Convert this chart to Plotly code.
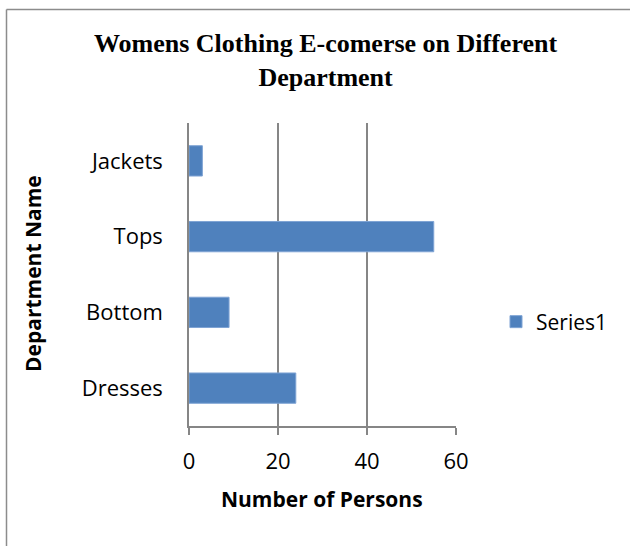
import plotly.graph_objects as go

categories = ["Dresses", "Bottom", "Tops", "Jackets"]
values = [24, 9, 55, 3]
series_name = "Series1"
x_ticks = [0, 20, 40, 60]

W, H = 630, 546
L, R, T, B = 189, 174, 123, 120
pw, ph = W - L - R, H - T - B

def px_x(x):
    return (x - L) / pw

def px_y(y):
    return (H - B - y) / ph

FONT = "Open Sans"

fig = go.Figure()
fig.add_trace(go.Bar(
    y=categories, x=values, orientation="h", name=series_name,
    marker=dict(color="#4F81BD", line=dict(color="#7EA3D4", width=1)),
    showlegend=True,
))

fig.update_layout(
    width=W, height=H,
    margin=dict(l=L, r=R, t=T, b=B, pad=0),
    paper_bgcolor="white", plot_bgcolor="white",
    bargap=0.6,
    font=dict(family=FONT, color="black", size=22),
    xaxis=dict(range=[0, 60], tickvals=x_ticks, showgrid=True, gridcolor="#868686", gridwidth=1.5,
               showline=True, linecolor="#868686", linewidth=1.5, ticks="outside", ticklen=7,
               tickcolor="#868686", tickwidth=1.5, zeroline=False, tickfont=dict(size=22),
               ticklabelstandoff=8, fixedrange=True),
    yaxis=dict(showline=True, linecolor="#868686", linewidth=1.5, ticks="", showgrid=False,
               tickfont=dict(size=22), ticklabelstandoff=20, fixedrange=True),
    legend=dict(x=px_x(496), y=px_y(322), xanchor="left", yanchor="middle",
                font=dict(size=21), bgcolor="rgba(0,0,0,0)"),
    annotations=[
        dict(text="<b>Womens Clothing E-comerse on Different<br>Department</b>", xref="paper", yref="paper",
             x=px_x(325), y=px_y(60), xanchor="center", yanchor="middle", showarrow=False,
             font=dict(family="Liberation Serif", size=26, color="black")),
        dict(text="<b>Department Name</b>", xref="paper", yref="paper", x=px_x(33), y=px_y(274),
             xanchor="center", yanchor="middle", showarrow=False, textangle=-90,
             font=dict(family=FONT, size=21, color="black")),
        dict(text="<b>Number of Persons</b>", xref="paper", yref="paper", x=px_x(322), y=px_y(499),
             xanchor="center", yanchor="middle", showarrow=False,
             font=dict(family=FONT, size=21, color="black")),
    ],
    shapes=[
        dict(type="line", xref="paper", yref="paper", x0=px_x(6.5), x1=px_x(630), y0=px_y(9.5), y1=px_y(9.5),
             line=dict(color="#8C8C8C", width=1.5)),
        dict(type="line", xref="paper", yref="paper", x0=px_x(6.5), x1=px_x(6.5), y0=px_y(9.5), y1=px_y(546),
             line=dict(color="#8C8C8C", width=1.5)),
    ],
)

fig.write_html("out.html", config=dict(displayModeBar=False))
